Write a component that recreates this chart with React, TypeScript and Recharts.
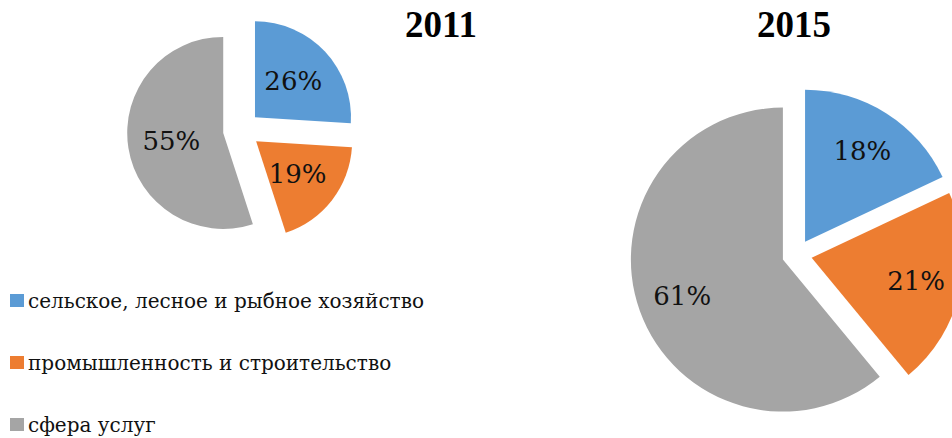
import React from "react";
import { PieChart, Pie, Sector, Legend } from "recharts";

const categories = [
  "сельское, лесное и рыбное хозяйство",
  "промышленность и строительство",
  "сфера услуг",
];
const values2011 = [26, 19, 55];
const values2015 = [18, 21, 61];
const years = ["2011", "2015"];
const COLORS = ["#5B9BD5", "#ED7D31", "#A5A5A5"];
const FONT = "DejaVu Serif";
const TITLE_FONT = "Liberation Serif";

const data2011 = categories.map((name, i) => ({ name, value: values2011[i] }));
const data2015 = categories.map((name, i) => ({ name, value: values2015[i] }));

const RAD = Math.PI / 180;

const makeSlice = (explode: number, labelR: number) => (props: any) => {
  const { cx, cy, innerRadius, outerRadius, startAngle, endAngle, midAngle, index, value } = props;
  const dx = explode * Math.cos(-midAngle * RAD);
  const dy = explode * Math.sin(-midAngle * RAD);
  const lx = cx + labelR * Math.cos(-midAngle * RAD);
  const ly = cy + labelR * Math.sin(-midAngle * RAD);
  return (
    <g key={`s-${index}`}>
      <Sector
        cx={cx + dx}
        cy={cy + dy}
        innerRadius={innerRadius}
        outerRadius={outerRadius}
        startAngle={startAngle}
        endAngle={endAngle}
        fill={COLORS[index]}
        stroke="none"
      />
      <text
        x={lx}
        y={ly}
        textAnchor="middle"
        dominantBaseline="central"
        style={{ fontFamily: FONT, fontSize: 26, fill: "#111" }}
      >
        {`${value}%`}
      </text>
    </g>
  );
};

const renderLegend = () => (
  <svg width={420} height={168} style={{ display: "block" }}>
    {categories.map((c, i) => (
      <g key={c} transform={`translate(0, ${i * 62})`}>
        <rect x={0} y={24} width={14} height={13} fill={COLORS[i]} />
        <text
          x={18}
          y={31}
          dominantBaseline="central"
          style={{ fontFamily: FONT, fontSize: 20, fill: "#111" }}
        >
          {c}
        </text>
      </g>
    ))}
  </svg>
);

const titleStyle = (cx: number): React.CSSProperties => ({
  position: "absolute",
  left: cx - 60,
  width: 120,
  top: 6,
  textAlign: "center",
  fontFamily: TITLE_FONT,
  fontWeight: "bold",
  fontSize: 37,
  lineHeight: 1,
  color: "#000",
});

export default function App() {
  return (
    <div
      style={{
        position: "absolute",
        left: 0,
        top: 0,
        width: 952,
        height: 438,
        overflow: "hidden",
        background: "#fff",
      }}
    >
      <PieChart width={952} height={438} margin={{ top: 0, right: 0, bottom: 0, left: 0 }}>
        <Pie
          data={data2011}
          dataKey="value"
          nameKey="name"
          cx={241.5}
          cy={130}
          outerRadius={96}
          startAngle={90}
          endAngle={-270}
          fill="none"
          stroke="none"
          label={makeSlice(18.5, 71)}
          labelLine={false}
          isAnimationActive={false}
        />
        <Pie
          data={data2015}
          dataKey="value"
          nameKey="name"
          cx={797}
          cy={254.5}
          outerRadius={152}
          startAngle={90}
          endAngle={-270}
          fill="none"
          stroke="none"
          label={makeSlice(15, 122)}
          labelLine={false}
          isAnimationActive={false}
        />
        <Legend
          content={renderLegend}
          wrapperStyle={{ position: "absolute", left: 10, top: 270, width: 420, bottom: "auto" }}
        />
      </PieChart>
      <div style={titleStyle(441)}>{years[0]}</div>
      <div style={titleStyle(794)}>{years[1]}</div>
    </div>
  );
}
